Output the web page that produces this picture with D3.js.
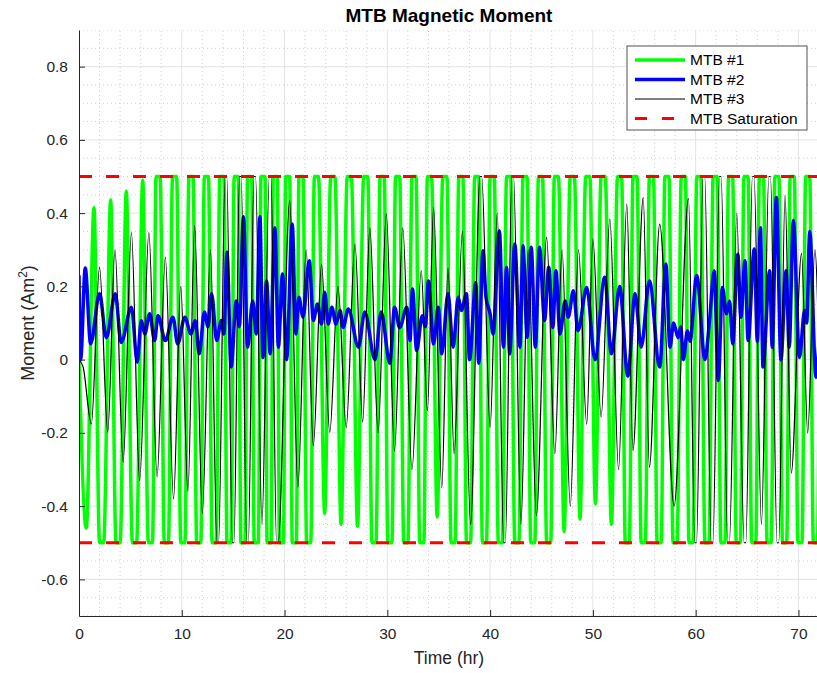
<!DOCTYPE html>
<html>
<head>
<meta charset="utf-8">
<script src="https://cdn.jsdelivr.net/npm/d3@7"></script>
<style>
  body { margin: 0; background: #fff; }
  svg { display: block; font-family: "Liberation Sans", Arial, Helvetica, sans-serif; }
</style>
</head>
<body>
<div id="vis"></div>
<script>
// Datos (tiempo en horas, momento en Am^2)
const X_TICKS = [0, 10, 20, 30, 40, 50, 60, 70];
const Y_TICKS = [-0.6, -0.4, -0.2, 0, 0.2, 0.4, 0.6, 0.8];
const Y_TICK_LABELS = ["-0.6", "-0.4", "-0.2", "0", "0.2", "0.4", "0.6", "0.8"];
const TIME_DOMAIN = [0, 72];
const MOMENT_DOMAIN = [-0.7, 0.9];
const SATURATION = 0.5;
const LEGEND_LABELS = ["MTB #1", "MTB #2", "MTB #3", "MTB Saturation"];

// MTB #1: extremos (t, valor)
const mtb1 = [
  [0, 0], [0.71, -0.46], [1.46, 0.415], [2.2, -0.5], [3.08, 0.436], [3.8, -0.5],
  [4.6, 0.46], [5.4, -0.5], [6.2, 0.49], [6.95, -0.5], [7.7, 0.5], [8.5, -0.5],
  [9.3, 0.5], [10.1, -0.5], [10.9, 0.5], [11.65, -0.5], [12.4, 0.5], [13.15, -0.5],
  [13.9, 0.5], [14.6, -0.5], [15.3, 0.5], [15.95, -0.5], [16.6, 0.5], [17.25, -0.5],
  [17.9, 0.5], [18.5, -0.5], [19.1, 0.5], [19.7, -0.5], [20.3, 0.5], [20.95, -0.5],
  [21.6, 0.5], [22.35, -0.5], [23.1, 0.5], [23.9, -0.42], [24.7, 0.5], [25.5, -0.45],
  [26.3, 0.5], [27.1, -0.455], [27.9, 0.5], [28.7, -0.5], [29.5, 0.5], [30.25, -0.5],
  [31.0, 0.5], [31.8, -0.5], [32.6, 0.5], [33.35, -0.5], [34.1, 0.5], [34.85, -0.43],
  [35.6, 0.5], [36.4, -0.5], [37.15, 0.5], [37.9, -0.5], [38.7, 0.5], [39.45, -0.5],
  [40.2, 0.5], [41.0, -0.5], [41.8, 0.5], [42.6, -0.5], [43.4, 0.5], [44.15, -0.5],
  [44.9, 0.5], [45.7, -0.5], [46.45, 0.5], [47.2, -0.47], [48.0, 0.5], [48.75, -0.435],
  [49.5, 0.5], [50.25, -0.394], [51.0, 0.5], [51.8, -0.45], [52.6, 0.5], [53.35, -0.5],
  [54.1, 0.5], [54.9, -0.5], [55.7, 0.5], [56.45, -0.5], [57.2, 0.5], [58.0, -0.5],
  [58.8, 0.5], [59.55, -0.5], [60.3, 0.5], [61.1, -0.5], [61.9, 0.5], [62.65, -0.5],
  [63.4, 0.5], [64.15, -0.5], [64.9, 0.5], [65.65, -0.5], [66.4, 0.5], [67.15, -0.5],
  [67.9, 0.5], [68.65, -0.5], [69.4, 0.5], [70.15, -0.5], [70.9, 0.5], [71.65, -0.5],
  [72.4, 0.5]
];

// MTB #2
const mtb2 = [
  [0, 0.23], [0.16, 0.0], [0.61, 0.25], [1.13, 0.043], [2.0, 0.18], [2.66, 0.06],
  [3.53, 0.18], [4.1, 0.047], [5.1, 0.143], [5.67, -0.007], [6.06, 0.107], [6.4, 0.07],
  [6.87, 0.125], [7.36, 0.052], [7.68, 0.12], [8.4, 0.052], [9.14, 0.116], [9.6, 0.043],
  [10.3, 0.116], [10.9, 0.07], [11.3, 0.107], [11.7, 0.016], [12.2, 0.13], [12.55, 0.09],
  [12.9, 0.18], [13.4, 0.052], [13.85, 0.107], [14.1, 0.07], [14.4, 0.293], [14.8, -0.02],
  [15.3, 0.16], [15.6, 0.09], [16.0, 0.39], [16.4, 0.034], [16.9, 0.16], [17.25, 0.07],
  [17.6, 0.39], [17.9, 0.006], [18.25, 0.215], [18.6, 0.016], [19.06, 0.36], [19.4, 0.034],
  [19.8, 0.234], [20.2, 0.0], [20.75, 0.37], [21.1, 0.07], [21.4, 0.17], [21.8, 0.116],
  [22.4, 0.27], [22.8, 0.107], [23.2, 0.152], [23.6, 0.097], [23.9, 0.184], [24.25, 0.097],
  [24.6, 0.143], [25.0, 0.097], [25.4, 0.134], [25.7, 0.088], [26.2, 0.138], [27.2, 0.034],
  [27.8, 0.13], [28.8, 0.0], [29.4, 0.13], [30.25, -0.01], [30.7, 0.143], [31.2, 0.088],
  [31.9, 0.143], [32.2, 0.052], [32.45, 0.193], [32.85, 0.025], [33.4, 0.12], [33.7, 0.09],
  [34.0, 0.215], [34.5, 0.043], [34.95, 0.143], [35.3, 0.016], [35.9, 0.18], [36.4, 0.034],
  [36.9, 0.17], [37.2, 0.134], [37.7, 0.18], [38.0, 0.0], [38.6, 0.21], [38.9, -0.01],
  [39.3, 0.297], [39.6, 0.17], [40.0, 0.125], [40.3, 0.07], [40.9, 0.352], [41.3, 0.034],
  [41.6, 0.252], [41.9, 0.016], [42.4, 0.316], [42.9, 0.034], [43.2, 0.311], [43.6, 0.061],
  [44.0, 0.307], [44.4, 0.034], [44.8, 0.307], [45.3, 0.107], [45.7, 0.252], [46.1, 0.088],
  [46.4, 0.243], [46.8, 0.07], [47.3, 0.16], [47.6, 0.116], [48.1, 0.188], [48.55, 0.079],
  [49.4, 0.197], [50.2, 0.0], [51.15, 0.225], [51.8, 0.016], [52.6, 0.2], [53.4, -0.045],
  [54.1, 0.18], [54.7, 0.034], [55.5, 0.215], [56.5, -0.02], [57.1, 0.261], [57.5, 0.034],
  [57.85, 0.1], [58.3, 0.06], [58.55, 0.09], [58.8, 0.0], [59.2, 0.079], [59.45, 0.05],
  [60.1, 0.23], [60.9, 0.0], [61.35, 0.107], [61.8, 0.243], [62.2, -0.057], [62.6, 0.197],
  [63.0, 0.125], [63.3, 0.16], [63.6, 0.043], [64.1, 0.288], [64.4, 0.116], [64.8, 0.27],
  [65.1, 0.052], [65.7, 0.302], [66.0, 0.05], [66.3, 0.36], [66.55, -0.02], [67.2, 0.243],
  [67.45, 0.034], [67.85, 0.443], [68.3, 0.0], [68.8, 0.243], [69.1, 0.034], [69.5, 0.38],
  [70.1, 0.006], [70.6, 0.134], [70.8, 0.1], [71.1, 0.35], [71.7, -0.048], [72, 0.05]
];

// MTB #3
const mtb3 = [
  [0, 0], [0.4, -0.02], [1.2, -0.176], [2.0, 0.252], [2.8, -0.198], [3.5, 0.3],
  [4.3, -0.28], [5.1, 0.347], [5.9, -0.33], [6.8, 0.347], [7.6, -0.32], [8.4, 0.28],
  [9.2, -0.38], [9.9, 0.2], [10.6, -0.36], [11.25, 0.366], [12.0, -0.42], [12.8, 0.3],
  [13.5, -0.5], [14.3, 0.5], [15.0, -0.5], [15.7, 0.5], [16.4, -0.5], [17.1, 0.5],
  [17.8, -0.45], [18.6, 0.5], [19.3, -0.5], [20.5, 0.434], [21.3, -0.348], [22.1, 0.3],
  [22.8, -0.235], [23.6, 0.26], [24.4, -0.198], [25.2, 0.2], [26.0, -0.185], [26.85, 0.316],
  [27.6, -0.17], [28.3, 0.36], [29.1, -0.2], [29.9, 0.398], [30.7, -0.25], [31.5, 0.36],
  [32.4, -0.3], [33.3, 0.243], [33.9, -0.14], [34.5, 0.415], [35.3, -0.35], [35.9, 0.25],
  [36.5, -0.257], [37.3, 0.35], [38.1, -0.45], [39.1, 0.5], [40.0, -0.185], [40.7, 0.4],
  [41.4, -0.5], [42.2, 0.5], [43.0, -0.45], [43.7, 0.3], [44.5, -0.426], [45.5, 0.334],
  [46.3, -0.257], [47.0, 0.3], [47.8, -0.4], [48.6, 0.3], [49.4, -0.176], [50.0, 0.33],
  [50.8, -0.157], [51.65, 0.384], [52.5, -0.3], [53.3, 0.425], [53.9, -0.248], [54.9, 0.443],
  [55.5, -0.294], [56.5, 0.37], [57.9, -0.4], [59.3, 0.44], [60.0, -0.5], [60.8, 0.5],
  [61.6, -0.5], [62.4, 0.5], [63.2, -0.5], [64.0, 0.4], [64.8, -0.5], [65.6, 0.5],
  [66.4, -0.45], [67.2, 0.5], [68.0, -0.5], [68.7, 0.45], [69.3, -0.31], [70.3, 0.29],
  [70.9, -0.2], [71.6, 0.3], [72.2, -0.3]
];

const WIDTH = 817;
const HEIGHT = 673;
const MARGIN = { top: 30, bottom: 57, left: 79, right: -2 };
const TEXT_COLOR = "#262626";

const SVG = d3.select("#vis").append("svg")
  .attr("width", WIDTH)
  .attr("height", HEIGHT);

const xScale = d3.scaleLinear()
  .domain(TIME_DOMAIN)
  .range([MARGIN.left, WIDTH - MARGIN.right]);

const yScale = d3.scaleLinear()
  .domain(MOMENT_DOMAIN)
  .range([HEIGHT - MARGIN.bottom, MARGIN.top]);

// clip del area de graficos
SVG.append("defs").append("clipPath").attr("id", "plot-clip")
  .append("rect")
  .attr("x", xScale.range()[0])
  .attr("y", yScale.range()[1])
  .attr("width", xScale.range()[1] - xScale.range()[0])
  .attr("height", yScale.range()[0] - yScale.range()[1]);

// grilla menor (punteada)
const xMinor = d3.range(0, 73, 2).filter((d) => d % 10 !== 0);
const yMinor = d3.range(-14, 19).map((d) => d * 0.05).filter((d) => Math.abs(d * 5 - Math.round(d * 5)) > 1e-6);

const grid = SVG.append("g").attr("clip-path", "url(#plot-clip)");

grid.selectAll(".xminor").data(xMinor).join("line")
  .attr("x1", (d) => xScale(d)).attr("x2", (d) => xScale(d))
  .attr("y1", yScale.range()[0]).attr("y2", yScale.range()[1])
  .attr("stroke", "#c4c4c4").attr("stroke-width", 0.8).attr("stroke-dasharray", "1,3");

grid.selectAll(".yminor").data(yMinor).join("line")
  .attr("x1", xScale.range()[0]).attr("x2", xScale.range()[1])
  .attr("y1", (d) => yScale(d)).attr("y2", (d) => yScale(d))
  .attr("stroke", "#c4c4c4").attr("stroke-width", 0.8).attr("stroke-dasharray", "1,3");

// grilla mayor
grid.selectAll(".xmajor").data(X_TICKS).join("line")
  .attr("x1", (d) => xScale(d)).attr("x2", (d) => xScale(d))
  .attr("y1", yScale.range()[0]).attr("y2", yScale.range()[1])
  .attr("stroke", "#dcdcdc").attr("stroke-width", 0.8);

grid.selectAll(".ymajor").data(Y_TICKS).join("line")
  .attr("x1", xScale.range()[0]).attr("x2", xScale.range()[1])
  .attr("y1", (d) => yScale(d)).attr("y2", (d) => yScale(d))
  .attr("stroke", "#dcdcdc").attr("stroke-width", 0.8);

// los valores saturados se dibujan con una meseta corta
function withFlats(points, half) {
  return points.flatMap(([t, v]) =>
    Math.abs(v) >= SATURATION ? [[t - half, v], [t + half, v]] : [[t, v]]
  );
}

const line = d3.line()
  .x((d) => xScale(d[0]))
  .y((d) => yScale(d[1]))
  .curve(d3.curveMonotoneX);

const plot = SVG.append("g").attr("clip-path", "url(#plot-clip)");

plot.append("path")
  .attr("d", line(withFlats(mtb1, 0.2)))
  .attr("fill", "none").attr("stroke", "#00ff00").attr("stroke-width", 3.5)
  .attr("stroke-linejoin", "round");

plot.append("path")
  .attr("d", line(mtb2))
  .attr("fill", "none").attr("stroke", "#0000ff").attr("stroke-width", 3.5)
  .attr("stroke-linejoin", "round");

plot.append("path")
  .attr("d", line(withFlats(mtb3, 0.08)))
  .attr("fill", "none").attr("stroke", "#000").attr("stroke-width", 1.2);

plot.selectAll(".sat").data([SATURATION, -SATURATION]).join("line")
  .attr("x1", xScale(0)).attr("x2", xScale(TIME_DOMAIN[1]))
  .attr("y1", (d) => yScale(d)).attr("y2", (d) => yScale(d))
  .attr("stroke", "#ff0000").attr("stroke-width", 3).attr("stroke-dasharray", "13,14");

// ejes
const xAxis = d3.axisBottom(xScale).tickValues(X_TICKS)
  .tickSizeInner(-6).tickSizeOuter(0).tickPadding(12);
const yAxis = d3.axisLeft(yScale).tickValues(Y_TICKS)
  .tickSizeInner(-6).tickSizeOuter(0).tickPadding(11)
  .tickFormat((d, i) => Y_TICK_LABELS[i]);

const gx = SVG.append("g")
  .attr("transform", `translate(0, ${yScale.range()[0]})`)
  .call(xAxis);
const gy = SVG.append("g")
  .attr("transform", `translate(${xScale.range()[0]}, 0)`)
  .call(yAxis);

[gx, gy].forEach((g) => {
  g.select(".domain").attr("stroke", TEXT_COLOR).attr("stroke-width", 1);
  g.selectAll(".tick line").attr("stroke", TEXT_COLOR);
  g.selectAll(".tick text")
    .attr("fill", TEXT_COLOR)
    .style("font-size", "15.5px")
    .style("font-family", "'Liberation Sans', Arial, sans-serif");
});

// titulo y etiquetas
const plotCenterX = (xScale.range()[0] + xScale.range()[1]) / 2;

SVG.append("text")
  .attr("x", plotCenterX).attr("y", 22)
  .attr("text-anchor", "middle")
  .style("font-size", "19px").style("font-weight", "bold")
  .attr("fill", "#000")
  .text("MTB Magnetic Moment");

SVG.append("text")
  .attr("x", plotCenterX).attr("y", 664)
  .attr("text-anchor", "middle")
  .style("font-size", "17.5px")
  .attr("fill", TEXT_COLOR)
  .text("Time (hr)");

const yLabel = SVG.append("text")
  .attr("transform", `translate(34, ${(yScale.range()[0] + yScale.range()[1]) / 2}) rotate(-90)`)
  .attr("text-anchor", "middle")
  .style("font-size", "18px")
  .attr("fill", TEXT_COLOR);
yLabel.append("tspan").text("Moment (Am");
yLabel.append("tspan").attr("dy", -7).style("font-size", "12px").text("2");
yLabel.append("tspan").attr("dy", 7).text(")");

// leyenda
const legendStyles = [
  { color: "#00ff00", width: 3.5, dash: null },
  { color: "#0000ff", width: 3.5, dash: null },
  { color: "#000", width: 1.2, dash: null },
  { color: "#ff0000", width: 3, dash: "12,15" },
];

const legend = SVG.append("g").attr("transform", "translate(627, 46)");
legend.append("rect")
  .attr("width", 180).attr("height", 84)
  .attr("fill", "#fff").attr("stroke", TEXT_COLOR).attr("stroke-width", 0.8);

const rows = legend.selectAll(".row").data(LEGEND_LABELS).join("g")
  .attr("transform", (d, i) => `translate(0, ${14 + i * 19.5})`);

rows.append("line")
  .attr("x1", 8).attr("x2", 58)
  .attr("stroke", (d, i) => legendStyles[i].color)
  .attr("stroke-width", (d, i) => legendStyles[i].width)
  .attr("stroke-dasharray", (d, i) => legendStyles[i].dash);

rows.append("text")
  .attr("x", 63).attr("dy", "0.35em")
  .style("font-size", "15.5px")
  .attr("fill", "#000")
  .text((d) => d);
</script>
</body>
</html>
